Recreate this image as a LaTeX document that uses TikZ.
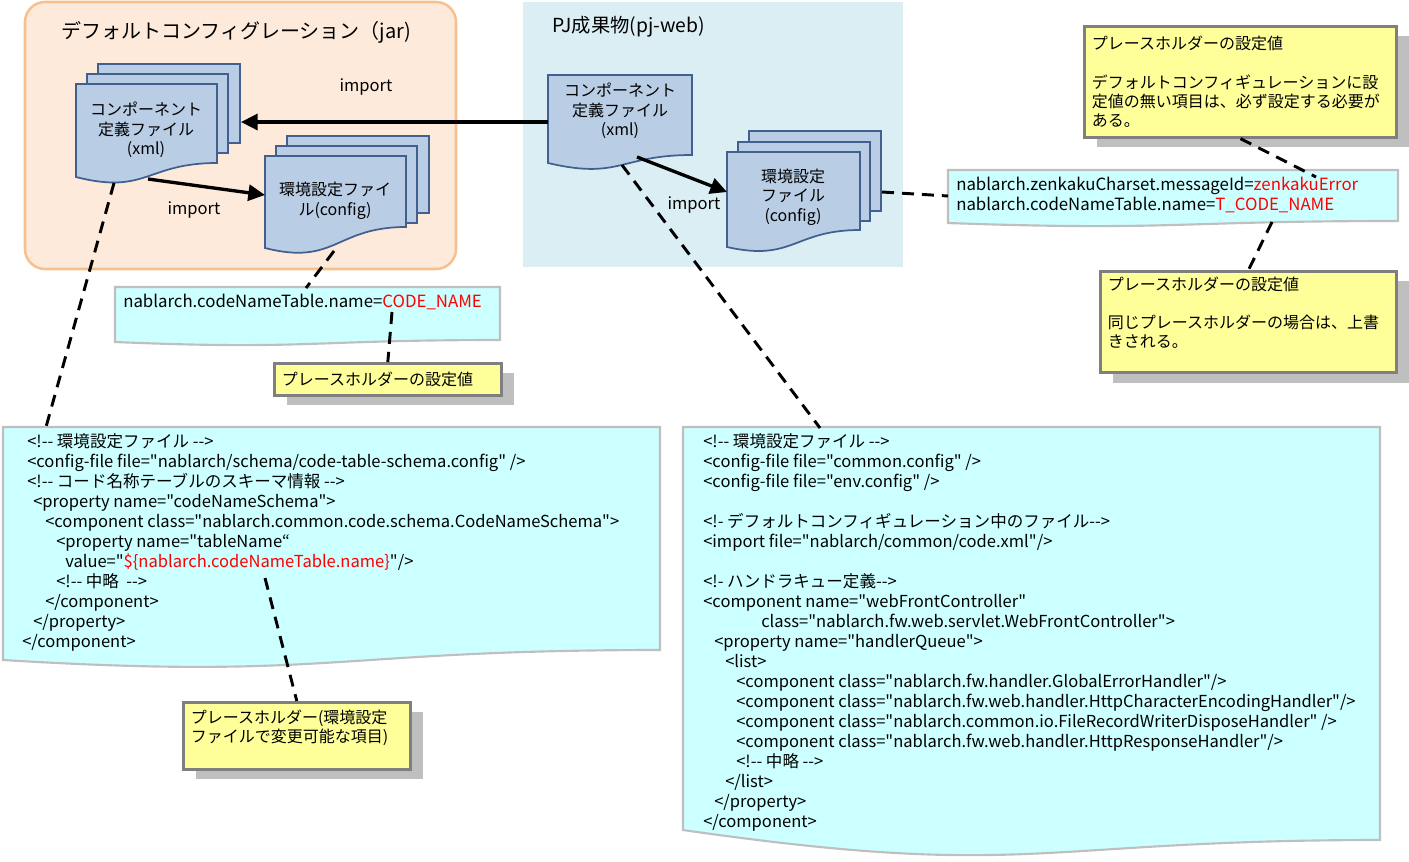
\documentclass[tikz,border=0pt]{standalone}
\usepackage{fontspec}
\setmainfont{Noto Sans CJK JP}[Ligatures=TeXOff]
\usetikzlibrary{arrows.meta,shadows}

\definecolor{jarfill}{HTML}{FDEADA}
\definecolor{jarline}{HTML}{F9C08F}
\definecolor{pjfill}{HTML}{DBEEF4}
\definecolor{docfill}{HTML}{B9CDE5}
\definecolor{docline}{HTML}{41608F}
\definecolor{propfill}{HTML}{CCFFFF}
\definecolor{propline}{HTML}{BFBFBF}
\definecolor{notefill}{HTML}{FFFF99}
\definecolor{noteline}{HTML}{7F7F7F}
\definecolor{noteshade}{HTML}{BFBFBF}
\definecolor{valred}{HTML}{FF0000}

% sheet with a wavy lower edge: x1, top, x2, right foot, left foot, dip
\newcommand{\wavesheet}[6]{(#1,#2) -- (#3,#2) -- (#3,#4)
  .. controls ({(#1+#3)/2},#4) and ({(#1+#3)/2},#6) .. (#1,#5) -- cycle}
% flat page lying behind a sheet: x1, top, x2, bottom
\newcommand{\backsheet}[4]{(#1,#2) rectangle (#3,#4)}

\tikzset{
  jarzone/.style={fill=jarfill, draw=jarline, line width=1.9pt, rounded corners=15pt},
  pjzone/.style={fill=pjfill, draw=none},
  sheet/.style={fill=docfill, draw=docline, line width=1.3pt},
  sheettext/.style={align=center, inner sep=0pt, font=\fontsize{12}{14.6}\selectfont},
  listing/.style={fill=propfill, draw=propline, line width=1.6pt},
  codeline/.style={anchor=base west, inner sep=0pt, font=\fontsize{12.4}{14}\selectfont},
  propline/.style={anchor=base west, inner sep=0pt, font=\fontsize{12.6}{14}\selectfont},
  importarrow/.style={line width=2.5pt, -{Triangle[length=12.5pt,width=12pt]}},
  importlabel/.style={inner sep=0pt, font=\fontsize{12.4}{14}\selectfont},
  pointer/.style={line width=2.2pt, dash pattern=on 9pt off 6pt},
  note/.style={fill=notefill, draw=noteline, line width=2.2pt, anchor=north west,
    align=left, inner xsep=5.5pt, font=\fontsize{12}{14.3}\selectfont,
    drop shadow={shadow xshift=9.5pt, shadow yshift=-7.5pt, fill=noteshade, opacity=1}}
}

\begin{document}
\begin{tikzpicture}[x=0.75pt, y=-0.75pt]
  \useasboundingbox (0,0) rectangle (1409,861);

  % the two zones
  \draw[jarzone] (25,2) rectangle (456,269);
  \fill[pjzone] (523,2) rectangle (903,267);
  \node[font=\fontsize{15}{16}\selectfont, inner sep=0pt] (jartitle) at (236,32) {デフォルトコンフィグレーション（jar)};
  \node[font=\fontsize{14.5}{15}\selectfont, inner sep=0pt, anchor=west] (pjtitle) at (552,27) {PJ成果物(pj-web)};

  % default configuration: component definition files
  \draw[sheet] \backsheet{98}{64}{240}{143};
  \draw[sheet] \backsheet{87}{74}{228}{153};
  \draw[sheet] \wavesheet{76}{84}{217}{163}{177}{195};
  \node[sheettext] (defxml) at (146,130) {コンポーネント\\定義ファイル\\(xml)};
  \coordinate (defxmlside) at (241,122);
  \coordinate (defxmlfoot) at (148,179);
  \coordinate (defxmlmark) at (114,183);

  % default configuration: environment files
  \draw[sheet] \backsheet{287}{136}{429}{213};
  \draw[sheet] \backsheet{276}{146}{417}{223};
  \draw[sheet] \wavesheet{265}{156}{406}{227}{248}{266};
  \node[sheettext] (defconf) at (335,201) {環境設定ファイ\\ル(config)};
  \coordinate (defconfside) at (265,195);
  \coordinate (defconffoot) at (334,251);

  % project: component definition file
  \draw[sheet] \wavesheet{548}{75}{692}{155}{163}{180};
  \node[sheettext] (pjxml) at (620,111) {コンポーネント\\定義ファイル\\(xml)};
  \coordinate (pjxmlside) at (548,122);
  \coordinate (pjxmlfoot) at (637,157);
  \coordinate (pjxmlmark) at (622,165);

  % project: environment files
  \draw[sheet] \backsheet{749}{131}{881}{211};
  \draw[sheet] \backsheet{738}{142}{870}{221};
  \draw[sheet] \wavesheet{727}{152}{860}{230}{247}{262};
  \node[sheettext] (pjconf) at (793,197) {環境設定\\ファイル\\(config)};
  \coordinate (pjconfside) at (727,192);
  \coordinate (pjconfmark) at (882,192);

  % imports
  \draw[importarrow] (pjxmlside) -- (defxmlside);
  \draw[importarrow] (defxmlfoot) -- (defconfside);
  \draw[importarrow] (pjxmlfoot) -- (pjconfside);
  \node[importlabel] (imp1) at (366,87) {import};
  \node[importlabel] (imp2) at (194,210) {import};
  \node[importlabel] (imp3) at (694,205) {import};

  % property values
  \draw[listing] \wavesheet{115}{287}{500}{340}{342}{350};
  \node[propline] (defval) at (123,307) {nablarch.codeNameTable.name=\textcolor{valred}{CODE\_NAME}};
  \coordinate (defvaltop) at (306,288);
  \coordinate (defvalmark) at (392,312);
  \draw[listing] \wavesheet{948}{170}{1398}{221}{223}{231};
  \node[propline] (pjval1) at (956,190) {nablarch.zenkakuCharset.messageId=\textcolor{valred}{zenkakuError}};
  \node[propline] (pjval2) at (956,210) {nablarch.codeNameTable.name=\textcolor{valred}{T\_CODE\_NAME}};
  \coordinate (pjvalside) at (948,196);
  \coordinate (pjvalmark) at (1316,177);
  \coordinate (pjvalfoot) at (1272,222);

  % default component definition
  \draw[listing] \wavesheet{3}{427}{660}{650}{660}{680};
  \coordinate (defcodetop) at (46,427);
  \coordinate (defcodemark) at (265,578);
  \node[codeline] (lc1) at (27,447) {<!-- 環境設定ファイル -->};
  \node[codeline] (lc2) at (27,467) {<config-file file="nablarch/schema/code-table-schema.config" />};
  \node[codeline] (lc3) at (27,487) {<!-- コード名称テーブルのスキーマ情報 -->};
  \node[codeline] (lc4) at (33,507) {<property name="codeNameSchema">};
  \node[codeline] (lc5) at (45,527) {<component class="nablarch.common.code.schema.CodeNameSchema">};
  \node[codeline] (lc6) at (56,547) {<property name="tableName“};
  \node[codeline] (lc7) at (65,567) {value="\textcolor{valred}{\$\{nablarch.codeNameTable.name\}}"/>};
  \node[codeline] (lc8) at (56,587) {<!-- 中略 \ -->};
  \node[codeline] (lc9) at (45,607) {</component>};
  \node[codeline] (lc10) at (33,627) {</property>};
  \node[codeline] (lc11) at (22,647) {</component>};

  % project component definition
  \draw[listing] \wavesheet{683}{427}{1380}{840}{830}{880};
  \coordinate (pjcodetop) at (820,428);
  \node[codeline] (rc1) at (703,447) {<!-- 環境設定ファイル -->};
  \node[codeline] (rc2) at (703,467) {<config-file file="common.config" />};
  \node[codeline] (rc3) at (703,487) {<config-file file="env.config" />};
  \node[codeline] (rc4) at (703,527) {<!- デフォルトコンフィギュレーション中のファイル-->};
  \node[codeline] (rc5) at (703,547) {<import file="nablarch/common/code.xml"/>};
  \node[codeline] (rc6) at (703,587) {<!- ハンドラキュー定義-->};
  \node[codeline] (rc7) at (703,607) {<component name="webFrontController"};
  \node[codeline] (rc8) at (761,627) {class="nablarch.fw.web.servlet.WebFrontController">};
  \node[codeline] (rc9) at (714,647) {<property name="handlerQueue">};
  \node[codeline] (rc10) at (725,667) {<list>};
  \node[codeline] (rc11) at (736,687) {<component class="nablarch.fw.handler.GlobalErrorHandler"/>};
  \node[codeline] (rc12) at (736,707) {<component class="nablarch.fw.web.handler.HttpCharacterEncodingHandler"/>};
  \node[codeline] (rc13) at (736,727) {<component class="nablarch.common.io.FileRecordWriterDisposeHandler" />};
  \node[codeline] (rc14) at (736,747) {<component class="nablarch.fw.web.handler.HttpResponseHandler"/>};
  \node[codeline] (rc15) at (736,767) {<!-- 中略 -->};
  \node[codeline] (rc16) at (725,787) {</list>};
  \node[codeline] (rc17) at (714,807) {</property>};
  \node[codeline] (rc18) at (703,827) {</component>};

  % notes
  \node[note, text width=223pt, minimum height=83pt] (noteA) at (1083,25)
    {プレースホルダーの設定値\\\mbox{}\\デフォルトコンフィギュレーションに設\\定値の無い項目は、必ず設定する必要が\\ある。};
  \node[note, text width=211pt, minimum height=76pt, inner ysep=2.5pt] (noteB) at (1099,270)
    {プレースホルダーの設定値\\\mbox{}\\同じプレースホルダーの場合は、上書\\きされる。\\\mbox{}};
  \node[note, text width=159pt, minimum height=24pt] (noteC) at (273,362)
    {プレースホルダーの設定値};
  \node[note, text width=159pt, minimum height=50pt] (noteD) at (182,701)
    {プレースホルダー(環境設定\\ファイルで変更可能な項目)\\\mbox{}};

  % dashed pointers
  \draw[pointer] (defxmlmark) -- (defcodetop);
  \draw[pointer] (defconffoot) -- (defvaltop);
  \draw[pointer] (defvalmark) -- (noteC.north);
  \draw[pointer] (pjxmlmark) -- (pjcodetop);
  \draw[pointer] (pjconfmark) -- (pjvalside);
  \draw[pointer] (noteA.south) -- (pjvalmark);
  \draw[pointer] (pjvalfoot) -- (noteB.north);
  \draw[pointer] (defcodemark) -- (noteD.north);
\end{tikzpicture}
\end{document}
